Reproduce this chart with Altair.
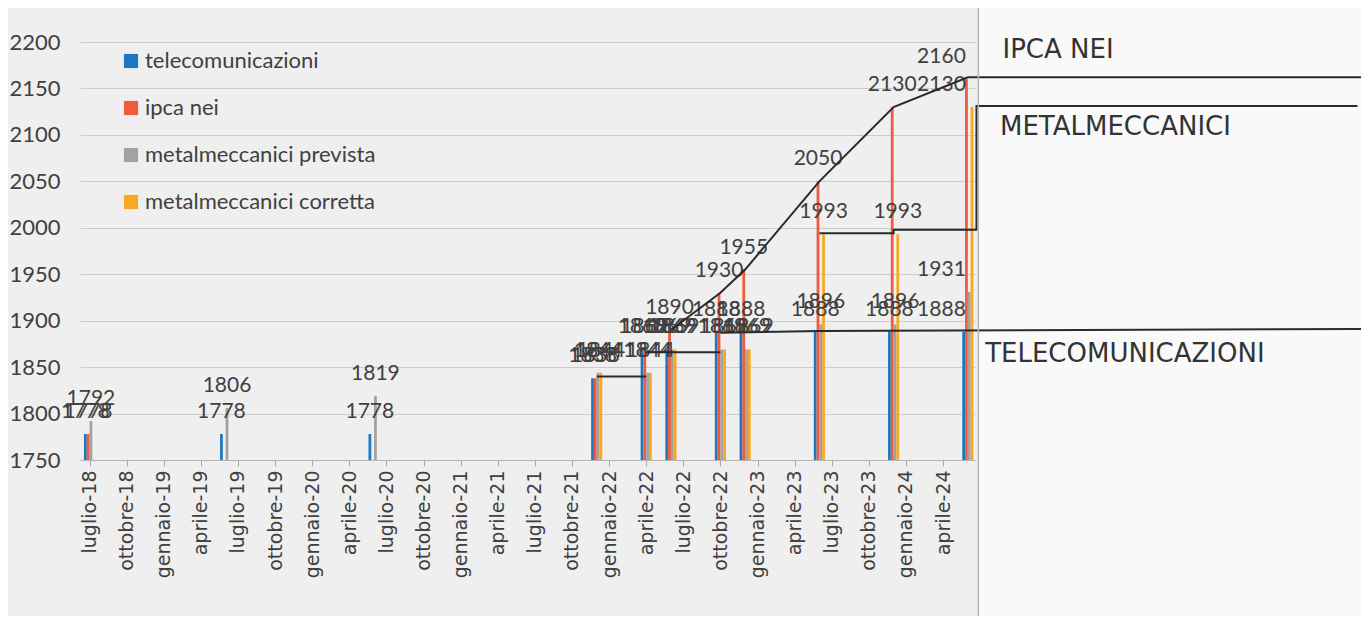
import altair as alt
import pandas as pd

# ---------------- data ----------------
periods = ["2018-07", "2019-06", "2020-06", "2021-12", "2022-04", "2022-06",
           "2022-10", "2022-12", "2023-06", "2023-12", "2024-06"]
telecomunicazioni = [1778, 1778, 1778, 1838, 1869, 1869, 1888, 1888, 1888, 1888, 1888]
ipca_nei = [1778, None, None, 1838, 1869, 1890, 1930, 1955, 2050, 2130, 2160]
metal_prevista = [1792, 1806, 1819, 1844, 1844, 1869, 1869, 1869, 1896, 1896, 1931]
metal_corretta = [None, None, None, 1844, 1844, 1869, 1869, 1869, 1993, 1993, 2130]

series_names = ["telecomunicazioni", "ipca nei", "metalmeccanici prevista", "metalmeccanici corretta"]
series_colors = ["#1f77c0", "#ee5b3d", "#a2a2a2", "#f9a826"]

tick_labels = ["luglio-18", "ottobre-18", "gennaio-19", "aprile-19", "luglio-19", "ottobre-19",
               "gennaio-20", "aprile-20", "luglio-20", "ottobre-20", "gennaio-21", "aprile-21",
               "luglio-21", "ottobre-21", "gennaio-22", "aprile-22", "luglio-22", "ottobre-22",
               "gennaio-23", "aprile-23", "luglio-23", "ottobre-23", "gennaio-24", "aprile-24"]
y_ticks = [1750, 1800, 1850, 1900, 1950, 2000, 2050, 2100, 2150, 2200]

# handwritten annotation lines (month index from luglio-18, value)
hand_segment = ["ipca"] * 7 + ["metal"] * 6 + ["tlc1"] * 2 + ["tlc2"] * 2 + ["tlc3"] * 3
hand_m = [47, 51, 53, 59, 65, 71, 102.8,
          59, 65, 65, 71.7, 71.7, 102.5,
          41, 45,
          45, 51,
          51, 59, 102.8]
hand_v = [1890, 1930, 1955, 2050, 2130, 2162, 2162,
          1994, 1994, 1998, 1998, 2131, 2131,
          1840, 1840,
          1866, 1866,
          1887, 1889, 1891]
hand_text = ["IPCA NEI", "METALMECCANICI", "TELECOMUNICAZIONI"]
hand_text_m = [73.8, 73.6, 72.4]
hand_text_v = [2191, 2108, 1864]


def month_index(p):
    y, mo = p.split("-")
    return (int(y) - 2018) * 12 + int(mo) - 7


rows = []
all_series = [telecomunicazioni, ipca_nei, metal_prevista, metal_corretta]
for i, p in enumerate(periods):
    for k, (name, vals) in enumerate(zip(series_names, all_series)):
        v = vals[i]
        if v is None:
            continue
        rows.append({"periodo": p, "m": month_index(p), "serie": name, "k": k,
                     "valore": v, "ultimo": i == len(periods) - 1})
bars_df = pd.DataFrame(rows)

hand_df = pd.DataFrame({"seg": hand_segment, "m": hand_m, "v": hand_v,
                        "idx": list(range(len(hand_m)))})
text_df = pd.DataFrame({"t": hand_text, "m": hand_text_m, "v": hand_text_v})

W, H = 895, 418
xscale = alt.Scale(domain=[-0.77, 71.58], nice=False, zero=False)
yscale = alt.Scale(domain=[1750, 2200], nice=False, zero=False)

label_expr = "[" + ",".join("'%s'" % t for t in tick_labels) + "][round(datum.value/3)]"
x_axis = alt.Axis(values=[3 * i for i in range(len(tick_labels))], labelExpr=label_expr,
                  labelAngle=-90, labelFont="DejaVu Sans", labelFontSize=19,
                  labelColor="#404040", ticks=True, tickSize=6, tickColor="#aaaaaa",
                  domain=True, domainColor="#b5b5b5", grid=False, labelPadding=4,
                  title=None, labelOverlap=False, labelFlush=False, labelBound=False)
y_axis = alt.Axis(values=y_ticks, format="d", labelFont="Lato", labelFontSize=22,
                  labelColor="#404040", grid=True, gridColor="#cccccc", domain=False,
                  ticks=False, labelPadding=20, title=None, labelOverlap=False)

base = alt.Chart(bars_df).transform_calculate(
    x0="datum.m + (datum.k - 2) * 0.225",
    x1="datum.m + (datum.k - 1) * 0.225",
    xc="datum.m + (datum.k - 1.5) * 0.225",
)

# paper area to the right of the chart (lighter than the chart area)
paper = alt.Chart(pd.DataFrame({"a": [0]})).mark_rect(color="#f9f9f9").encode(
    x=alt.X(datum=71.85, scale=xscale, axis=x_axis), x2=alt.X2(datum=110),
    y=alt.value(-42), y2=alt.value(H + 156),
)

bars = base.mark_bar().encode(
    x=alt.X("x0:Q", scale=xscale, axis=x_axis),
    x2="x1:Q",
    y=alt.Y("valore:Q", scale=yscale, axis=y_axis),
    y2=alt.Y2(datum=1750),
    color=alt.Color("serie:N", scale=alt.Scale(domain=series_names, range=series_colors),
                    legend=alt.Legend(orient="none", legendX=40, legendY=8, title=None,
                                      symbolType="square", symbolSize=200,
                                      labelFont="Lato", labelFontSize=22,
                                      labelColor="#404040", rowPadding=25, labelOffset=3,
                                      padding=0, symbolStrokeWidth=0, symbolOpacity=1,
                                      labelLimit=400)),
)

labels = base.transform_filter("!datum.ultimo").mark_text(
    font="Lato", fontSize=21, color="#404040", baseline="alphabetic", align="center", dy=-16
).encode(x=alt.X("xc:Q", scale=xscale, axis=x_axis),
         y=alt.Y("valore:Q", scale=yscale, axis=y_axis), text="valore:Q")

labels_last = base.transform_filter("datum.ultimo").mark_text(
    font="Lato", fontSize=21, color="#404040", baseline="alphabetic", align="right", dy=-16, dx=-2
).encode(x=alt.X("m:Q", scale=xscale, axis=x_axis),
         y=alt.Y("valore:Q", scale=yscale, axis=y_axis), text="valore:Q")

hand_lines = alt.Chart(hand_df).mark_line(color="#2a2a2a", strokeWidth=2).encode(
    x=alt.X("m:Q", scale=xscale, axis=x_axis), y=alt.Y("v:Q", scale=yscale, axis=y_axis),
    detail="seg:N", order="idx:Q"
)

hand_labels = alt.Chart(text_df).mark_text(
    font="DejaVu Sans", fontSize=26, color="#333333", align="left", baseline="middle"
).encode(x=alt.X("m:Q", scale=xscale, axis=x_axis), y=alt.Y("v:Q", scale=yscale, axis=y_axis),
         text="t:N")

border = alt.Chart(pd.DataFrame({"a": [0]})).mark_rule(color="#b8b8b8", strokeWidth=1.5).encode(
    x=alt.X(datum=71.85, scale=xscale, axis=x_axis), y=alt.value(-42), y2=alt.value(H + 156)
)

chart = alt.layer(paper, bars, labels, labels_last, hand_lines, hand_labels, border).properties(
    width=W, height=H,
    background="#efefef",
    autosize=alt.AutoSizeParams(type="none"),
    padding={"left": 72, "top": 34, "right": 386, "bottom": 156},
).configure_view(stroke=None)

chart.save("out.html", embed_options={"renderer": "svg", "actions": False})
